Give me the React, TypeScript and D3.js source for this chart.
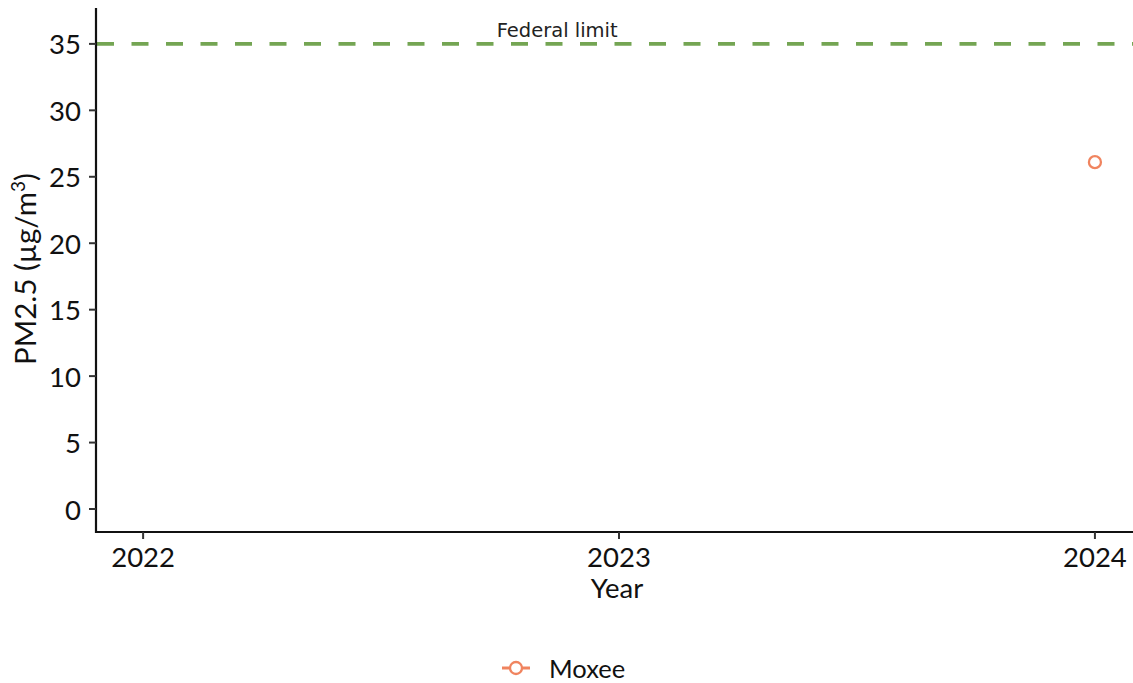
import React from "react";
import * as d3 from "d3";

// ── Data ──────────────────────────────────────────────────────────────────────
const years = [2022, 2023, 2024];
const yTicks = [0, 5, 10, 15, 20, 25, 30, 35];
const siteNames = ["Moxee"];
const moxeeValues = [{ year: 2024, pm25: 26.1 }];
const federalLimit = 35;

// ── Layout ────────────────────────────────────────────────────────────────────
const W = 1133;
const H = 683;
const PLOT = { left: 96, right: 1133, top: 8, bottom: 532 };

const LIMIT_COLOR = "#74a553";
const SITE_COLOR = "#f0845f";
const FONT = "Lato, 'Open Sans', sans-serif";

export default function App() {
  const x = d3.scaleLinear().domain([2021.901, 2024.08]).range([PLOT.left, PLOT.right]);
  const y = d3.scaleLinear().domain([-1.73, 37.7]).range([PLOT.bottom, PLOT.top]);

  return (
    <svg
      width={W}
      height={H}
      style={{ position: "absolute", left: 0, top: 0, background: "#fff" }}
    >
      {/* federal limit */}
      <line
        x1={PLOT.left + 1}
        x2={PLOT.right}
        y1={y(federalLimit)}
        y2={y(federalLimit)}
        stroke={LIMIT_COLOR}
        strokeWidth={3.6}
        strokeDasharray="17 17.5"
      />
      <text
        x={x(2022.87)}
        y={y(federalLimit) - 7}
        textAnchor="middle"
        fontFamily="'DejaVu Sans', sans-serif"
        fontSize={19.5}
        fill="#222"
      >
        Federal limit
      </text>

      {/* points */}
      {moxeeValues.map((d) => (
        <circle
          key={d.year}
          cx={x(d.year)}
          cy={y(d.pm25)}
          r={6}
          fill="none"
          stroke={SITE_COLOR}
          strokeWidth={2.3}
        />
      ))}

      {/* y axis */}
      <line x1={PLOT.left} x2={PLOT.left} y1={PLOT.top} y2={PLOT.bottom + 1} stroke="#111" strokeWidth={2.2} />
      {yTicks.map((t) => (
        <g key={t}>
          <line x1={PLOT.left - 7} x2={PLOT.left} y1={y(t)} y2={y(t)} stroke="#333" strokeWidth={2} />
          <text
            x={PLOT.left - 15}
            y={y(t)}
            textAnchor="end"
            dominantBaseline="central"
            fontFamily={FONT}
            fontSize={27.5}
            fill="#111"
          >
            {t}
          </text>
        </g>
      ))}

      {/* x axis */}
      <line x1={PLOT.left - 1} x2={PLOT.right} y1={PLOT.bottom} y2={PLOT.bottom} stroke="#111" strokeWidth={2.2} />
      {years.map((yr) => (
        <g key={yr}>
          <line x1={x(yr)} x2={x(yr)} y1={PLOT.bottom} y2={PLOT.bottom + 7} stroke="#333" strokeWidth={2} />
          <text
            x={x(yr)}
            y={PLOT.bottom + 35}
            textAnchor="middle"
            fontFamily={FONT}
            fontSize={27.5}
            fill="#111"
          >
            {yr}
          </text>
        </g>
      ))}

      {/* axis titles */}
      <text
        x={617}
        y={598}
        textAnchor="middle"
        fontFamily={FONT}
        fontSize={27.5}
        fill="#111"
      >
        Year
      </text>
      <text
        transform={`translate(36,269) rotate(-90)`}
        textAnchor="middle"
        fontFamily={FONT}
        fontSize={29.5}
        fill="#111"
      >
        PM2.5 (µg/m
        <tspan fontSize={19} dy={-11}>3</tspan>
        <tspan dy={11}>)</tspan>
      </text>

      {/* legend */}
      {siteNames.map((name, i) => (
        <g key={name} transform={`translate(${502 + i * 150},668)`}>
          <line x1={0} x2={28} y1={0} y2={0} stroke={SITE_COLOR} strokeWidth={3} />
          <circle cx={14} cy={0} r={6} fill="#fff" stroke={SITE_COLOR} strokeWidth={2.3} />
          <text x={47} y={0} dominantBaseline="central" fontFamily={FONT} fontSize={25.5} fill="#111">
            {name}
          </text>
        </g>
      ))}
    </svg>
  );
}
